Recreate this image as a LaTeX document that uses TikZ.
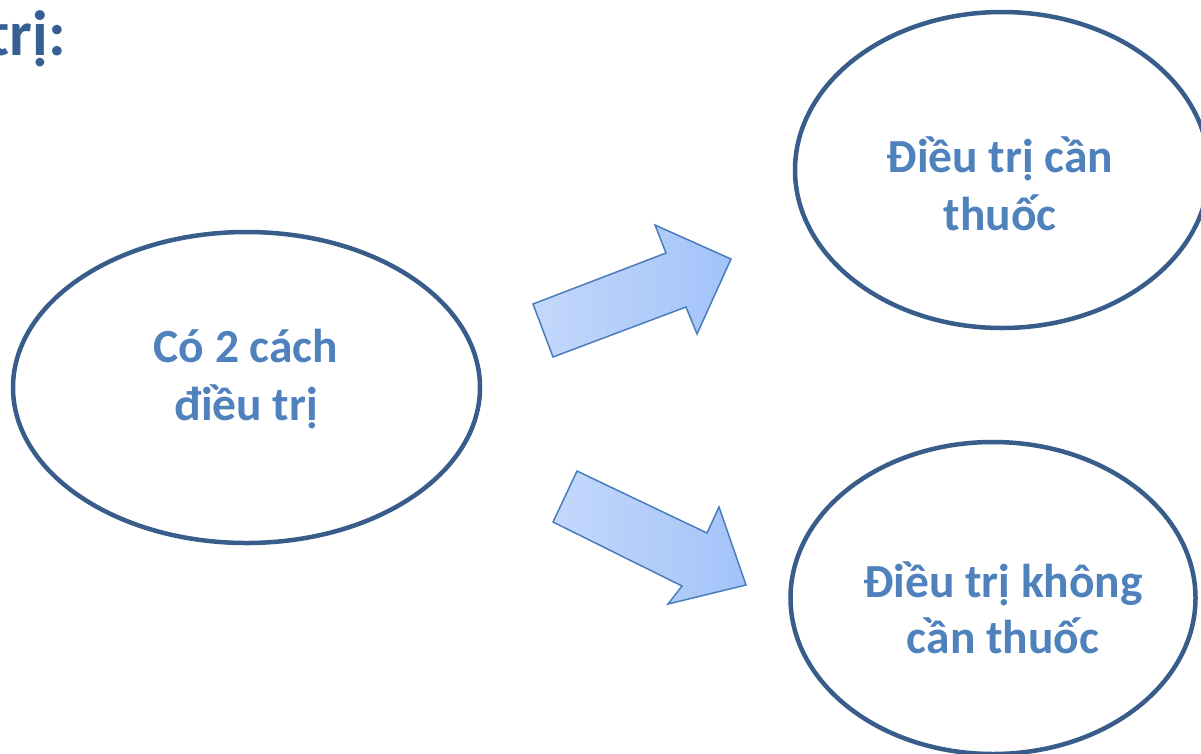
\documentclass[tikz,border=0pt]{standalone}
\usepackage{fontspec}
\setmainfont{Carlito}
\usetikzlibrary{shapes.geometric}
\definecolor{ringcol}{HTML}{385D8A}
\definecolor{txtcol}{HTML}{4F81BD}
\definecolor{titlecol}{HTML}{376092}
\definecolor{arrline}{HTML}{4A7EBB}
\definecolor{arrlight}{HTML}{C4D8FA}
\definecolor{arrdark}{HTML}{A2C3F9}
\tikzset{
  ring/.style={draw=ringcol, line width=4.5pt, ellipse, inner sep=0pt},
  ringtext/.style={anchor=base, inner sep=0pt, text=txtcol,
    font=\fontsize{47.5}{57}\selectfont\bfseries},
  blockarrow/.style={draw=arrline, line width=1.5pt, line join=miter,
    left color=arrlight, right color=arrdark}
}
\begin{document}
\begin{tikzpicture}[x=1pt,y=-1pt]
\useasboundingbox (0,0) rectangle (1201,753);
\clip (0,0) rectangle (1201,753);
\fill[white] (0,0) rectangle (1201,753);
\node[anchor=base east, text=titlecol, font=\fontsize{64}{70}\selectfont\bfseries, inner sep=0pt] (title) at (66,55) {trị:};
% ellipses
\node[ring, minimum width=467pt, minimum height=311pt] (src) at (246.5,387.5) {};
\node[ring, minimum width=414pt, minimum height=316pt] (top) at (1002,170) {};
\node[ring, minimum width=405pt, minimum height=312pt] (bot) at (993,598) {};
% texts
\node[ringtext] (srcA) at (246,362) {Có 2 cách};
\node[ringtext] (srcB) at (246,420) {điều trị};
\node[ringtext] (topA) at (1000,172) {Điều trị cần};
\node[ringtext] (topB) at (1000,230) {thuốc};
\node[ringtext] (botA) at (1003,597) {Điều trị không};
\node[ringtext] (botB) at (1003,653) {cần thuốc};
% upper block arrow
\shade[blockarrow] (553,357) -- (533,304) -- (666,253) -- (655,225) -- (731,259) -- (697,334) -- (686,307) -- cycle;
% lower block arrow
\shade[blockarrow] (577,471) -- (553,522) -- (682,586) -- (668,604) -- (746,585) -- (719,507) -- (707,533) -- cycle;
\end{tikzpicture}
\end{document}
